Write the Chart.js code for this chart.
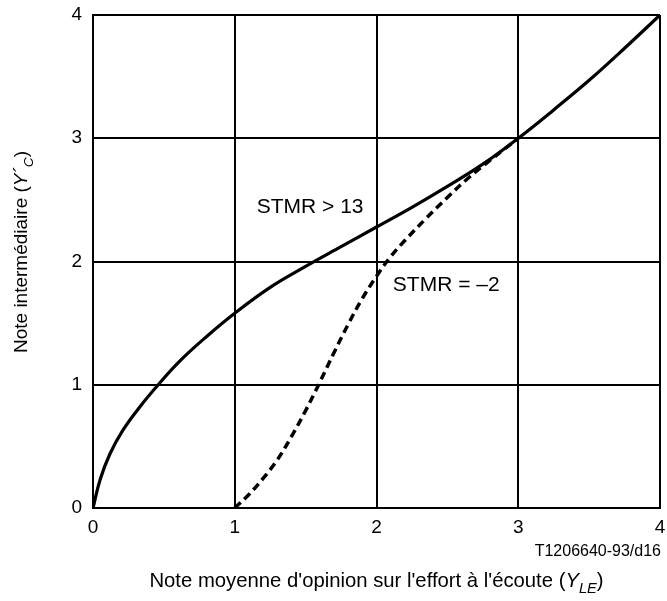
<!DOCTYPE html>
<html>
<head>
<meta charset="utf-8">
<script src="https://cdn.jsdelivr.net/npm/chart.js@4/dist/chart.umd.min.js"></script>
<style>
  html, body { margin: 0; padding: 0; background: #fff; }
  #wrap { width: 667px; height: 601px; }
</style>
</head>
<body>
<div id="wrap"><canvas id="c" width="667" height="601"></canvas></div>
<script>
// Listening-effort mean opinion score (x) against intermediate score (y)
const tickValues = [0, 1, 2, 3, 4];

// STMR > 13 curve
const highX = [0, 0.05, 0.12, 0.21, 0.33, 0.46, 0.61, 0.8, 1.0, 1.25, 1.5, 1.75, 2.0, 2.25, 2.5, 2.75, 3.0, 3.25, 3.5, 3.75, 4.0];
const highY = [0, 0.23, 0.44, 0.63, 0.82, 1.0, 1.19, 1.39, 1.58, 1.79, 1.96, 2.12, 2.28, 2.44, 2.61, 2.79, 3.0, 3.23, 3.47, 3.73, 4.0];

// STMR = -2 curve
const lowX = [1.0, 1.1, 1.2, 1.3, 1.4, 1.5, 1.6, 1.7, 1.8, 1.9, 2.0, 2.1, 2.2, 2.35, 2.5, 2.65, 2.8, 2.9, 3.0];
const lowY = [0, 0.11, 0.24, 0.39, 0.58, 0.79, 1.02, 1.26, 1.49, 1.70, 1.88, 2.04, 2.17, 2.35, 2.52, 2.68, 2.82, 2.91, 3.0];

// Curve labels: text and anchor point in data units
const curveLabels = [
  { text: 'STMR > 13', x: 1.155, y: 2.44 },
  { text: 'STMR = \u20132', x: 2.115, y: 1.81 }
];

const xTitle = [
  { t: "Note moyenne d'opinion sur l'effort \u00e0 l'\u00e9coute (" },
  { t: 'Y', it: true },
  { t: 'LE', it: true, sub: true },
  { t: ')' }
];
const yTitle = [
  { t: 'Note interm\u00e9diaire (' },
  { t: 'Y\u00b4', it: true },
  { t: 'C', it: true, sub: true },
  { t: ')' }
];
const creditText = 'T1206640-93/d16';

const FONT = '"Liberation Sans", Arial, Helvetica, sans-serif';

const toPts = (xs, ys) => xs.map((x, i) => ({ x: x, y: ys[i] }));

function richWidth(ctx, parts, size) {
  let w = 0;
  parts.forEach(p => {
    const s = p.sub ? size * 0.72 : size;
    ctx.font = (p.it ? 'italic ' : '') + s + 'px ' + FONT;
    w += ctx.measureText(p.t).width;
  });
  return w;
}
function drawRich(ctx, parts, size, x0, y0) {
  let x = x0;
  parts.forEach(p => {
    const s = p.sub ? size * 0.72 : size;
    ctx.font = (p.it ? 'italic ' : '') + s + 'px ' + FONT;
    ctx.fillText(p.t, x, y0 + (p.sub ? size * 0.3 : 0));
    x += ctx.measureText(p.t).width;
  });
}

const annotations = {
  id: 'annotations',
  afterDraw(chart) {
    const ctx = chart.ctx;
    const a = chart.chartArea;
    const xs = chart.scales.x, ys = chart.scales.y;
    ctx.save();
    ctx.fillStyle = '#000';
    ctx.textAlign = 'left';
    ctx.textBaseline = 'middle';
    ctx.font = '21px ' + FONT;
    curveLabels.forEach(l => {
      ctx.fillText(l.text, xs.getPixelForValue(l.x), ys.getPixelForValue(l.y));
    });

    // credit line
    ctx.font = '16px ' + FONT;
    ctx.textAlign = 'right';
    ctx.fillText(creditText, a.right + 1, 552);

    // x axis title
    ctx.textAlign = 'left';
    ctx.textBaseline = 'alphabetic';
    const sx = 20.3;
    const wx = richWidth(ctx, xTitle, sx);
    drawRich(ctx, xTitle, sx, (a.left + a.right) / 2 - wx / 2, 587);

    // y axis title
    const sy = 19;
    const wy = richWidth(ctx, yTitle, sy);
    ctx.translate(27, 252);
    ctx.rotate(-Math.PI / 2);
    drawRich(ctx, yTitle, sy, -wy / 2, 0);
    ctx.restore();
  }
};

new Chart(document.getElementById('c'), {
  type: 'scatter',
  data: {
    datasets: [
      {
        label: 'STMR > 13',
        data: toPts(highX, highY),
        showLine: true,
        borderColor: '#000',
        borderWidth: 3.2,
        pointRadius: 0,
        tension: 0.4,
        fill: false
      },
      {
        label: 'STMR = -2',
        data: toPts(lowX, lowY),
        showLine: true,
        borderColor: '#000',
        borderWidth: 3.5,
        borderDash: [8, 5],
        pointRadius: 0,
        tension: 0.4,
        fill: false
      }
    ]
  },
  options: {
    responsive: false,
    animation: false,
    layout: { padding: { left: 0, right: 7, top: 15, bottom: 0 } },
    plugins: {
      legend: { display: false },
      tooltip: { enabled: false }
    },
    scales: {
      x: {
        type: 'linear',
        min: 0, max: 4,
        afterBuildTicks: s => { s.ticks = tickValues.map(v => ({ value: v })); },
        ticks: { color: '#000', font: { size: 19, family: FONT }, padding: 8 },
        grid: { color: '#000', lineWidth: 2, drawTicks: false },
        border: { color: '#000', width: 2 },
        afterFit: s => { s.height = 93; s.paddingLeft = 0; s.paddingRight = 0; }
      },
      y: {
        type: 'linear',
        min: 0, max: 4,
        afterBuildTicks: s => { s.ticks = tickValues.map(v => ({ value: v })); },
        ticks: { color: '#000', font: { size: 19, family: FONT }, padding: 11 },
        grid: { color: '#000', lineWidth: 2, drawTicks: false },
        border: { color: '#000', width: 2 },
        afterFit: s => { s.width = 93; s.paddingTop = 0; s.paddingBottom = 0; }
      }
    }
  },
  plugins: [annotations]
});
</script>
</body>
</html>
